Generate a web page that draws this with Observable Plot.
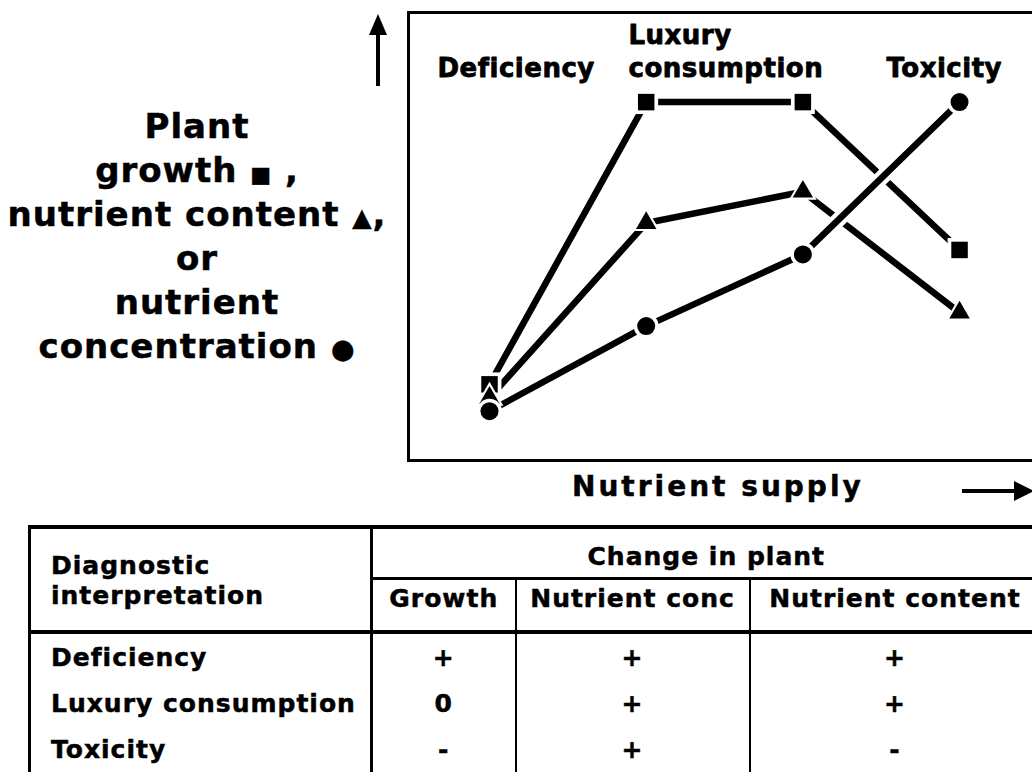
<!DOCTYPE html>
<html><head><meta charset="utf-8">
<script src="https://cdn.jsdelivr.net/npm/d3@7"></script>
<script src="https://cdn.jsdelivr.net/npm/@observablehq/plot@0.6"></script>
<style>
html,body{margin:0;padding:0;background:#fff;}
body{width:1032px;height:772px;overflow:hidden;position:relative;font-family:"DejaVu Sans",sans-serif;font-weight:bold;color:#000;-webkit-text-stroke:0.5px #000;}
#ylabel{position:absolute;left:0;top:104px;width:394px;text-align:center;font-size:34px;line-height:44px;letter-spacing:1px;white-space:nowrap;}
#ylabel .sym{line-height:0;}
#chart{position:absolute;left:406px;top:10px;width:650px;height:452px;}
#chart svg{max-width:none !important;width:650px;height:452px;}
#xlabel{position:absolute;left:572px;top:473px;font-size:28px;line-height:28px;letter-spacing:3px;white-space:nowrap;}
#arrows{position:absolute;left:0;top:0;}
table{position:absolute;left:28px;top:525px;border-collapse:collapse;table-layout:fixed;width:1010px;font-size:25px;letter-spacing:1px;border-top:4px solid #000;border-left:3px solid #000;border-bottom:3px solid #000;}
td,th{padding:0;font-weight:bold;white-space:nowrap;}
th.diag{text-align:left;padding-left:20px;vertical-align:top;padding-top:22px;line-height:30px;border-right:3px solid #000;border-bottom:4px solid #000;}
th.change{text-align:center;vertical-align:middle;padding-top:6px;border-bottom:3px solid #000;height:42px;}
th.sub{text-align:center;vertical-align:top;padding-top:4px;border-bottom:4px solid #000;height:46px;}
td{height:46px;text-align:center;vertical-align:middle;}
td.name{text-align:left;padding-left:20px;border-right:3px solid #000;}
.inner{border-right:2.5px solid #000;}
</style>
</head><body>
<div id="ylabel"></div>
<div id="chart"></div>
<div id="xlabel">Nutrient supply</div>
<svg id="arrows" width="1032" height="772">
  <line x1="378" y1="86" x2="378" y2="30" stroke="#000" stroke-width="4"/>
  <polygon points="369,35 387,35 378,14" fill="#000"/>
  <line x1="962" y1="491" x2="1018" y2="491" stroke="#000" stroke-width="4"/>
  <polygon points="1014,481 1014,501 1034,491" fill="#000"/>
</svg>
<script>
// ---- chart data ----
const levels = [1, 2, 3, 4];                 // nutrient supply levels
const growth = [17, 80, 80, 47];             // plant growth (squares)
const content = [14, 53, 60, 33];            // nutrient content (triangles)
const concentration = [11, 30, 46, 80];      // nutrient concentration (circles)
const phaseLabels = ["Deficiency", "Luxury\nconsumption", "Toxicity"];
const phaseStart = [0.668, 1.887, 3.534];    // supply level where each phase label begins
const phaseLabelLevel = 85.5;

// ---- y-axis label ----
const yLabelLines = ["Plant", "growth", "nutrient content", "or", "nutrient", "concentration"];
const yLabelSymbols = ["", "■", "▲", "", "", "●"];
const yLabelSymbolSize = [0, 22, 25, 0, 0, 27];
const yLabelTrail = ["", " ,", ",", "", "", ""];

// ---- table data ----
const tableHeader = "Diagnostic\ninterpretation";
const tableGroup = "Change in plant";
const tableColumns = ["Growth", "Nutrient conc", "Nutrient content"];
const diagnoses = ["Deficiency", "Luxury consumption", "Toxicity"];
const growthChange = ["+", "0", "-"];
const concChange = ["+", "+", "+"];
const contentChange = ["+", "+", "-"];

// y label
const yl = d3.select("#ylabel");
yLabelLines.forEach((t, i) => {
  const line = yl.append("div");
  line.append("span").text(t);
  if (yLabelSymbols[i]) {
    line.append("span").text(" ");
    line.append("span").attr("class", "sym").style("font-size", yLabelSymbolSize[i] + "px").text(yLabelSymbols[i]);
  }
  if (yLabelTrail[i]) line.append("span").text(yLabelTrail[i]);
});

// chart
const toRows = vals => levels.map((x, i) => ({x, y: vals[i]}));
const gRows = toRows(growth), tRows = toRows(content), cRows = toRows(concentration);

const chart = Plot.plot({
  width: 650, height: 452,
  marginTop: 2, marginRight: 2, marginBottom: 2, marginLeft: 2,
  x: {domain: [0.483, 4.606], axis: null},
  y: {domain: [0, 100], axis: null},
  style: {background: "transparent", fontFamily: "DejaVu Sans", maxWidth: "none"},
  marks: [
    Plot.line(gRows, {x: "x", y: "y", stroke: "black", strokeWidth: 6.5}),
    Plot.line(tRows, {x: "x", y: "y", stroke: "black", strokeWidth: 6.5}),
    Plot.line(cRows, {x: "x", y: "y", stroke: "white", strokeWidth: 15}),
    Plot.line(cRows, {x: "x", y: "y", stroke: "black", strokeWidth: 6.5}),
    Plot.dot(gRows, {x: "x", y: "y", symbol: "square", r: 13.5, fill: "white"}),
    Plot.dot(gRows, {x: "x", y: "y", symbol: "square", r: 9.3, fill: "black"}),
    Plot.dot(tRows, {x: "x", y: "y", symbol: "triangle", r: 10.3, fill: "white"}),
    Plot.dot(tRows, {x: "x", y: "y", symbol: "triangle", r: 7.6, fill: "black"}),
    Plot.dot(cRows, {x: "x", y: "y", symbol: "circle", r: 12.5, fill: "white"}),
    Plot.dot(cRows, {x: "x", y: "y", symbol: "circle", r: 9, fill: "black"}),
    Plot.text(phaseLabels, {
      x: (d, i) => phaseStart[i], y: () => phaseLabelLevel, text: d => d,
      textAnchor: "start", lineAnchor: "bottom", fontSize: 26, fontWeight: "bold",
      lineHeight: 1.27, fill: "black", stroke: "black", strokeWidth: 0.8
    }),
    Plot.frame({stroke: "black", strokeWidth: 3})
  ]
});
d3.select(chart).selectAll("text").style("letter-spacing", "0.5px");
document.getElementById("chart").appendChild(chart);

// table
const table = d3.select("body").append("table");
const cg = table.append("colgroup");
[342, 144, 234, 290].forEach(w => cg.append("col").style("width", w + "px"));
const r1 = table.append("tr");
r1.append("th").attr("class", "diag").attr("rowspan", 2).html(tableHeader.split("\n").join("<br>"));
r1.append("th").attr("class", "change").attr("colspan", 3).text(tableGroup);
const r2 = table.append("tr");
tableColumns.forEach((c, i) => r2.append("th").attr("class", "sub" + (i < 2 ? " inner" : "")).text(c));
diagnoses.forEach((d, i) => {
  const tr = table.append("tr");
  tr.append("td").attr("class", "name").text(d);
  tr.append("td").attr("class", "inner").text(growthChange[i]);
  tr.append("td").attr("class", "inner").text(concChange[i]);
  tr.append("td").text(contentChange[i]);
});
</script>
</body></html>
